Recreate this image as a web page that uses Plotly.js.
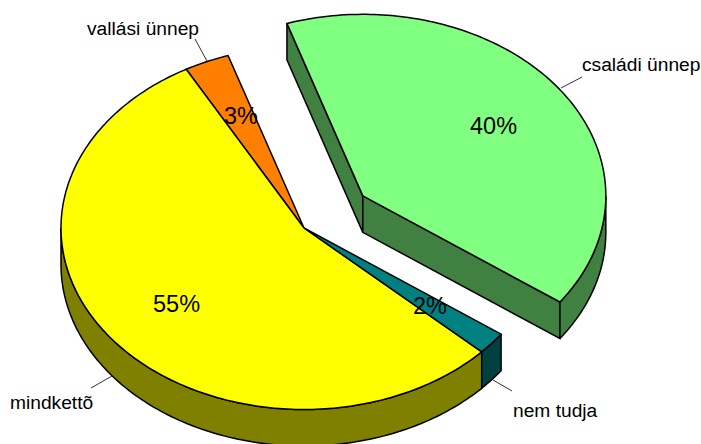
<!DOCTYPE html>
<html>
<head>
<meta charset="utf-8">
<script src="https://cdn.plot.ly/plotly-3.0.1.min.js"></script>
<style>html,body{margin:0;padding:0;background:#fff}#chart{width:701px;height:444px}</style>
</head>
<body>
<div id="chart"></div>
<script>
// Data
var categories = ['családi ünnep', 'nem tudja', 'mindkettõ', 'vallási ünnep'];
var values = [40, 2, 55, 3];
var explode = [0.30, 0, 0, 0];
var topColors = ['#80FF80', '#008080', '#FFFF00', '#FF8000'];
var sideColors = ['#408040', '#004040', '#808000', '#804000'];

// Pie projection
var cx = 304, cy = 228, rx = 243, ry = 181.5, depth = 36.5, startDeg = -18.2, labelFrac = 0.66;
var calloutStart = [[582, 77], [512, 391], [91, 388], [195, 39]];
var calloutEnd = [[561, 88], [493, 380], [112, 376], [207, 61]];
var calloutText = [[579.5, 64, 'left'], [510.5, 410, 'left'], [7.5, 402, 'left'], [84.5, 28, 'left']];
var pctNudge = [[1, 1], [2, 2], [-1, 2], [1, -2]];

var total = values.reduce(function (a, b) { return a + b; }, 0);
var rad = Math.PI / 180;
var slices = [], acc = startDeg;
values.forEach(function (v, i) {
  var a0 = acc, a1 = acc + v / total * 360, mid = (a0 + a1) / 2;
  slices.push({
    a0: a0, a1: a1, mid: mid,
    tx: cx + explode[i] * rx * Math.sin(mid * rad),
    ty: cy - explode[i] * ry * Math.cos(mid * rad)
  });
  acc = a1;
});
function pt(s, a, dz) {
  return [s.tx + rx * Math.sin(a * rad), s.ty - ry * Math.cos(a * rad) + (dz || 0)];
}
function arc(s, a0, a1, dz) {
  var out = [], n = Math.max(2, Math.ceil(Math.abs(a1 - a0)));
  for (var k = 0; k <= n; k++) out.push(pt(s, a0 + (a1 - a0) * k / n, dz));
  return out;
}
function poly(points, color) {
  var closed = points.concat([points[0]]);
  return {
    type: 'scatter', mode: 'lines', fill: 'toself', fillcolor: color,
    x: closed.map(function (p) { return p[0]; }),
    y: closed.map(function (p) { return p[1]; }),
    line: { color: '#000', width: 1.5, simplify: false },
    hoverinfo: 'skip', showlegend: false
  };
}
function outerWall(i) {
  var s = slices[i];
  var a0 = Math.max(s.a0, 90), a1 = Math.min(s.a1, 270);
  if (a1 <= a0) return null;
  return poly(arc(s, a0, a1, 0).concat(arc(s, a1, a0, depth)), sideColors[i]);
}
function radialWall(i, a) {
  var s = slices[i];
  return poly([[s.tx, s.ty], pt(s, a, 0), pt(s, a, depth), [s.tx, s.ty + depth]], sideColors[i]);
}
function topFace(i) {
  var s = slices[i];
  return poly([[s.tx, s.ty]].concat(arc(s, s.a0, s.a1, 0)), topColors[i]);
}

var traces = [];
// back to front: unexploded group first, then the exploded slice
[2, 1].forEach(function (i) { var w = outerWall(i); if (w) traces.push(w); });
[3, 2, 1].forEach(function (i) { traces.push(topFace(i)); });
traces.push(radialWall(0, slices[0].a0));
traces.push(radialWall(0, slices[0].a1));
traces.push(outerWall(0));
traces.push(topFace(0));

// Callouts
calloutStart.forEach(function (p, i) {
  traces.push({
    type: 'scatter', mode: 'lines',
    x: [p[0], calloutEnd[i][0]], y: [p[1], calloutEnd[i][1]],
    line: { color: '#333', width: 1 }, hoverinfo: 'skip', showlegend: false
  });
});

var annotations = [];
values.forEach(function (v, i) {
  var s = slices[i];
  annotations.push({
    x: s.tx + labelFrac * rx * Math.sin(s.mid * rad) + pctNudge[i][0],
    y: s.ty - labelFrac * ry * Math.cos(s.mid * rad) + pctNudge[i][1],
    xref: 'x', yref: 'y', text: v + '%', showarrow: false,
    xanchor: 'center', yanchor: 'middle',
    font: { family: 'Liberation Sans, Arial, sans-serif', size: 23.5, color: '#000' }
  });
  annotations.push({
    x: calloutText[i][0], y: calloutText[i][1],
    xref: 'x', yref: 'y', text: categories[i], showarrow: false,
    xanchor: calloutText[i][2], yanchor: 'middle',
    font: { family: 'Liberation Sans, Arial, sans-serif', size: 19.2, color: '#000' }
  });
});

Plotly.newPlot('chart', traces, {
  width: 701, height: 444,
  margin: { l: 0, r: 0, t: 0, b: 0 },
  paper_bgcolor: '#fff', plot_bgcolor: '#fff',
  showlegend: false,
  xaxis: { range: [0, 701], visible: false, fixedrange: true },
  yaxis: { range: [444, 0], visible: false, fixedrange: true },
  annotations: annotations
}, { displayModeBar: false, staticPlot: true });
</script>
</body>
</html>
